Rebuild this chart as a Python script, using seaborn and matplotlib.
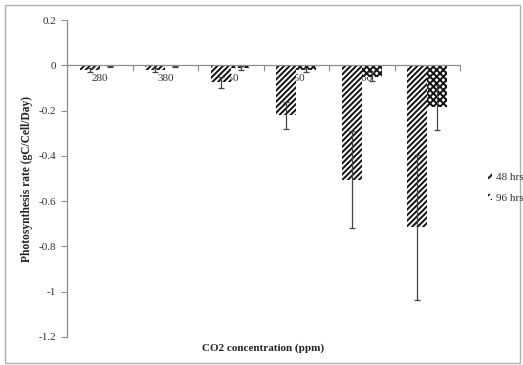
import matplotlib
matplotlib.use("Agg")
import matplotlib.pyplot as plt
import matplotlib.patches as mpatches
from matplotlib.ticker import FuncFormatter, FixedLocator
import numpy as np
import pandas as pd
import seaborn as sns

# Photosynthesis rate by CO2 level after 48 and 96 hours
co2_levels = ["280", "380", "550", "750", "1000", "1500"]
rate_48h = [-0.02, -0.02, -0.075, -0.22, -0.505, -0.715]
sd_48h = [0.01, 0.01, 0.025, 0.06, 0.215, 0.32]
rate_96h = [-0.004, -0.004, -0.012, -0.02, -0.05, -0.185]
sd_96h = [0.003, 0.003, 0.01, 0.01, 0.02, 0.1]
series = ["48 hrs", "96 hrs"]

df = pd.DataFrame({
    "co2": co2_levels * 2,
    "rate": rate_48h + rate_96h,
    "sd": sd_48h + sd_96h,
    "time": [series[0]] * len(co2_levels) + [series[1]] * len(co2_levels),
})

sns.set_theme(style="white")
plt.rcParams["font.family"] = ["Liberation Serif", "DejaVu Serif"]
plt.rcParams["hatch.linewidth"] = 1.4

fig = plt.figure(figsize=(5.23, 3.65), dpi=100)
ax = fig.add_axes([67 / 523, 1 - 337 / 365, (460 - 67) / 523, (337 - 20) / 365])

sns.barplot(data=df, x="co2", y="rate", hue="time", order=co2_levels,
            hue_order=series, errorbar=None, width=0.61, ax=ax,
            palette=["white", "white"], legend=False, zorder=3)

styles = {
    series[0]: dict(facecolor="white", edgecolor="#111111", hatch="//////"),
    series[1]: dict(facecolor="white", edgecolor="#111111", hatch="xxxxx"),
}
bars = ax.patches
n = len(co2_levels)
for i, p in enumerate(bars[: 2 * n]):
    s = styles[series[i // n]]
    p.set_facecolor(s["facecolor"])
    p.set_edgecolor(s["edgecolor"])
    p.set_hatch(s["hatch"])
    p.set_linewidth(0)
    p.set_zorder(3)

# error bars drawn from the same values as the bars
for i, p in enumerate(bars[: 2 * n]):
    row = df.iloc[i]
    xc = p.get_x() + p.get_width() / 2
    ax.errorbar(xc, row["rate"], yerr=row["sd"], fmt="none", ecolor="#444444",
                elinewidth=0.9, capsize=2.5, capthick=0.9, zorder=4)


def fmt_tick(v, _):
    if abs(v) < 1e-9:
        return "0"
    return f"{v:g}".replace("\u2212", "-")


ax.set_ylim(-1.2, 0.2)
ax.set_xlim(-0.5, n - 0.5)
ax.set_yticks(np.round(np.arange(-1.2, 0.21, 0.2), 1))
ax.yaxis.set_major_formatter(FuncFormatter(fmt_tick))

for side in ["top", "right"]:
    ax.spines[side].set_visible(False)
ax.spines["left"].set_color("#8c8c8c")
ax.spines["left"].set_linewidth(0.9)
ax.spines["bottom"].set_position(("data", 0))
ax.spines["bottom"].set_color("#8c8c8c")
ax.spines["bottom"].set_linewidth(0.9)
ax.spines["bottom"].set_zorder(5)

ax.tick_params(axis="y", which="major", direction="out", length=4, width=0.8,
               color="#8c8c8c", labelsize=8, labelcolor="#333333", pad=4, left=True)
ax.tick_params(axis="x", which="major", length=0, labelsize=8,
               labelcolor="#333333", pad=6)
ax.xaxis.set_minor_locator(FixedLocator(np.arange(-0.5, n, 1.0)))
ax.tick_params(axis="x", which="minor", direction="out", length=4, width=0.8,
               color="#8c8c8c", bottom=True)
ax.set_axisbelow(True)

ax.set_xlabel("")
ax.set_ylabel("Photosynthesis rate (gC/Cell/Day)", fontsize=8.3, fontweight="bold",
              color="#222222", labelpad=4)
fig.text(263 / 523, 1 - 348 / 365, "CO2 concentration (ppm)", ha="center",
         va="center", fontsize=8, fontweight="bold", color="#222222")

handles = [mpatches.Patch(facecolor="white", edgecolor="#111111", hatch="////",
                          linewidth=0) for s in series]
fig.legend(handles, series, loc="center left", bbox_to_anchor=(478 / 523, 1 - 188 / 365),
           frameon=False, fontsize=8, handlelength=0.4, handleheight=0.5,
           handletextpad=0.3, labelspacing=1.1, labelcolor="#333333")

# outer chart border
fig.patches.append(mpatches.Rectangle((5 / 523, 2 / 365), 515 / 523, 358 / 365,
                                      transform=fig.transFigure, fill=False,
                                      edgecolor="#b0b0b0", linewidth=1.0))

fig.savefig("out.png", dpi=100)
